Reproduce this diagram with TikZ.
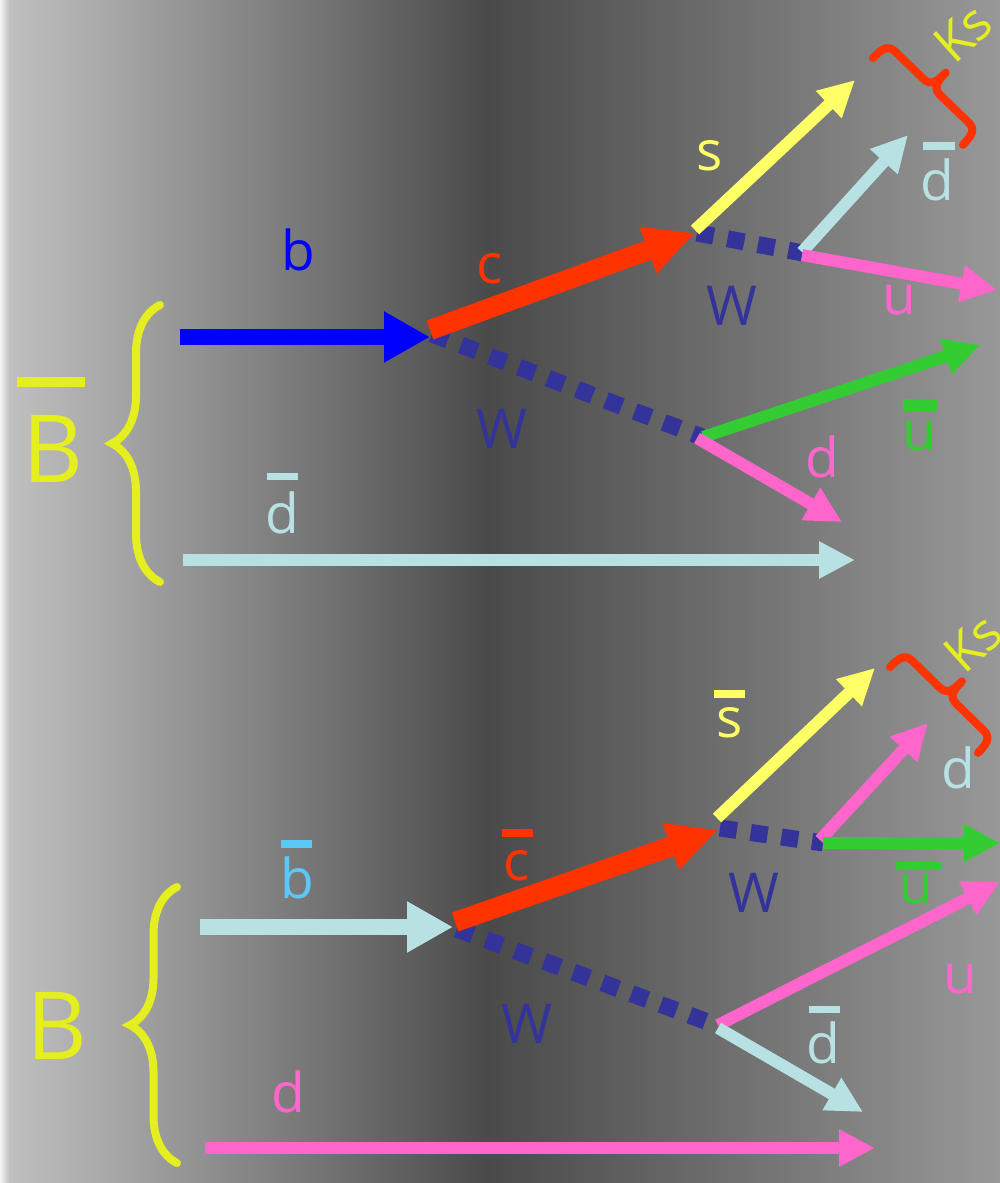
\documentclass[tikz,border=0pt]{standalone}
\usepackage{fontspec}
\setmainfont{Open Sans}
\usetikzlibrary{arrows.meta,decorations.pathreplacing}
\definecolor{byellow}{HTML}{E5EE1F}
\definecolor{syellow}{HTML}{FFFF66}
\definecolor{bblue}{HTML}{0000FF}
\definecolor{cred}{HTML}{FF3300}
\definecolor{wblue}{HTML}{333399}
\definecolor{lblue}{HTML}{B8E1E4}
\definecolor{pinkq}{HTML}{FF66CC}
\definecolor{greenq}{HTML}{33CC33}
\definecolor{skyq}{HTML}{5BC8F5}
\definecolor{bgL}{HTML}{C2C2C2}
\definecolor{bgD}{HTML}{4A4A4A}
\definecolor{bgR}{HTML}{989898}
\newcommand{\redbrace}[1]{%
  \draw[rbrace] (0,0) .. controls (0,14) and (2,20) .. (12,20)
    -- ({#1/2-12},20) .. controls ({#1/2-2},20) and ({#1/2},26) .. ({#1/2},40)
    .. controls ({#1/2},26) and ({#1/2+2},20) .. ({#1/2+12},20)
    -- ({#1-12},20) .. controls ({#1-2},20) and (#1,14) .. (#1,0);}
\begin{document}
\begin{tikzpicture}[x=1pt,y=1pt,
  lab/.style={font=\fontsize{55}{60}\selectfont, inner sep=0pt, anchor=base},
  biglab/.style={font=\fontsize{94}{100}\selectfont, inner sep=0pt, anchor=base, text=byellow},
  kslab/.style={font=\fontsize{52}{56}\selectfont, inner sep=0pt, text=byellow, rotate=42},
  wline/.style={draw=wblue, line width=17pt, dash pattern=on 17pt off 14pt},
  thinarrow/.style={line width=12pt, -{Triangle[length=36pt,width=35pt]}},
  midarrow/.style={line width=16pt, -{Triangle[length=46pt,width=48pt]}},
  fatarrow/.style={line width=20pt, -{Triangle[length=50pt,width=46pt]}},
  ybrace/.style={draw=byellow, line width=8pt, line cap=round, decorate, decoration={brace, amplitude=#1}},
  rbrace/.style={draw=cred, line width=8pt, line cap=round, line join=round}
]
\useasboundingbox (0,0) rectangle (1000,-1183);
% background
\fill[left color=bgL, right color=bgD] (0,0) rectangle (490,-1183);
\fill[left color=bgD, right color=bgR] (489.5,0) rectangle (1000,-1183);
\fill[left color=white!92!gray, right color=bgL] (0,0) rectangle (9,-1183);

% ===== top diagram =====
\coordinate (bS) at (180,-337);  \coordinate (bE) at (430,-337);
\coordinate (cS) at (430,-330);  \coordinate (cE) at (695,-233);
\coordinate (w1S) at (432,-334); \coordinate (w1E) at (702,-437);
\coordinate (w2S) at (697,-233); \coordinate (w2E) at (803,-253);
\coordinate (sS) at (695,-230);  \coordinate (sE) at (855,-80);
\coordinate (dbS) at (802,-252); \coordinate (dbE) at (908,-135);
\coordinate (uS) at (802,-255);  \coordinate (uE) at (997,-290);
\coordinate (ubS) at (703,-437); \coordinate (ubE) at (980,-345);
\coordinate (dS) at (697,-438);  \coordinate (dE) at (842,-522);
\coordinate (dlS) at (183,-560); \coordinate (dlE) at (855,-560);

\draw[wline] (w1S) -- (w1E);
\draw[wline] (w2S) -- (w2E);
\draw[midarrow, draw=bblue, fill=bblue] (bS) -- (bE);
\draw[fatarrow, draw=cred, fill=cred] (cS) -- (cE);
\draw[thinarrow, draw=syellow, fill=syellow] (sS) -- (sE);
\draw[thinarrow, draw=lblue, fill=lblue] (dbS) -- (dbE);
\draw[thinarrow, draw=pinkq, fill=pinkq] (uS) -- (uE);
\draw[thinarrow, draw=greenq, fill=greenq] (ubS) -- (ubE);
\draw[thinarrow, draw=pinkq, fill=pinkq] (dS) -- (dE);
\draw[thinarrow, draw=lblue, fill=lblue] (dlS) -- (dlE);

\draw[ybrace=48pt] (160,-582) -- (160,-305);
\begin{scope}[shift={(873,-58)}, rotate=-44]
  \redbrace{125}
\end{scope}

\node[lab, text=bblue] (lb) at (298,-270) {b};
\node[lab, text=cred] (lc) at (490,-283) {c};
\node[lab, text=syellow] (ls) at (710,-170) {s};
\node[lab, text=wblue] (lw1) at (732,-325) {W};
\node[lab, text=wblue] (lw2) at (502,-448) {W};
\node[lab, text=lblue] (ldb) at (937,-200) {d};
\fill[lblue] (923,-142) rectangle (955,-150);
\node[lab, text=pinkq] (lu) at (899,-314) {u};
\node[lab, text=greenq] (lub) at (919,-450) {u};
\fill[greenq] (903,-399) rectangle (937,-411);
\node[lab, text=pinkq] (ld) at (822,-477) {d};
\node[lab, text=lblue] (ldl) at (282,-533) {d};
\fill[lblue] (267,-473) rectangle (298,-480);
\node[biglab] (lB1) at (53,-482) {B};
\fill[byellow] (17,-377) rectangle (85,-387);
\node[kslab] (ks1) at (963,-33) {Ks};

% ===== bottom diagram =====
\coordinate (bbS) at (200,-927);  \coordinate (bbE) at (453,-927);
\coordinate (cbS) at (455,-922);  \coordinate (cbE) at (718,-830);
\coordinate (w3S) at (457,-929);  \coordinate (w3E) at (716,-1025);
\coordinate (w4S) at (720,-828);  \coordinate (w4E) at (823,-843);
\coordinate (sbS) at (717,-818);  \coordinate (sbE) at (875,-668);
\coordinate (pS) at (820,-840);   \coordinate (pE) at (928,-723);
\coordinate (gS) at (823,-843);   \coordinate (gE) at (1000,-843);
\coordinate (u2S) at (718,-1025); \coordinate (u2E) at (1000,-882);
\coordinate (db2S) at (718,-1028);\coordinate (db2E) at (863,-1112);
\coordinate (d2S) at (205,-1148); \coordinate (d2E) at (875,-1148);

\draw[wline] (w3S) -- (w3E);
\draw[wline] (w4S) -- (w4E);
\draw[midarrow, draw=lblue, fill=lblue] (bbS) -- (bbE);
\draw[fatarrow, draw=cred, fill=cred] (cbS) -- (cbE);
\draw[thinarrow, draw=syellow, fill=syellow] (sbS) -- (sbE);
\draw[thinarrow, draw=pinkq, fill=pinkq] (pS) -- (pE);
\draw[thinarrow, draw=greenq, fill=greenq] (gS) -- (gE);
\draw[thinarrow, draw=pinkq, fill=pinkq] (u2S) -- (u2E);
\draw[thinarrow, draw=lblue, fill=lblue] (db2S) -- (db2E);
\draw[thinarrow, draw=pinkq, fill=pinkq] (d2S) -- (d2E);

\draw[ybrace=47pt] (177,-1163) -- (177,-887);
\begin{scope}[shift={(890,-667)}, rotate=-44.3]
  \redbrace{123}
\end{scope}

\node[lab, text=skyq] (lbb) at (297,-898) {b};
\fill[skyq] (281,-840) rectangle (312,-848);
\node[lab, text=cred] (lcb) at (517,-880) {c};
\fill[cred] (502,-829) rectangle (533,-837);
\node[lab, text=syellow] (lsb) at (730,-737) {s};
\fill[syellow] (714,-690) rectangle (745,-698);
\node[lab, text=wblue] (lw3) at (754,-912) {W};
\node[lab, text=wblue] (lw4) at (527,-1043) {W};
\node[lab, text=lblue] (ld3) at (958,-788) {d};
\node[lab, text=greenq] (lub2) at (916,-903) {u};
\fill[greenq] (896,-862) rectangle (941,-869);
\node[lab, text=pinkq] (lu2) at (960,-993) {u};
\node[lab, text=lblue] (ldb2) at (823,-1063) {d};
\fill[lblue] (809,-1006) rectangle (840,-1013);
\node[lab, text=pinkq] (ld2) at (288,-1112) {d};
\node[biglab] (lB2) at (57,-1059) {B};
\node[kslab] (ks2) at (973,-643) {Ks};
\end{tikzpicture}
\end{document}
